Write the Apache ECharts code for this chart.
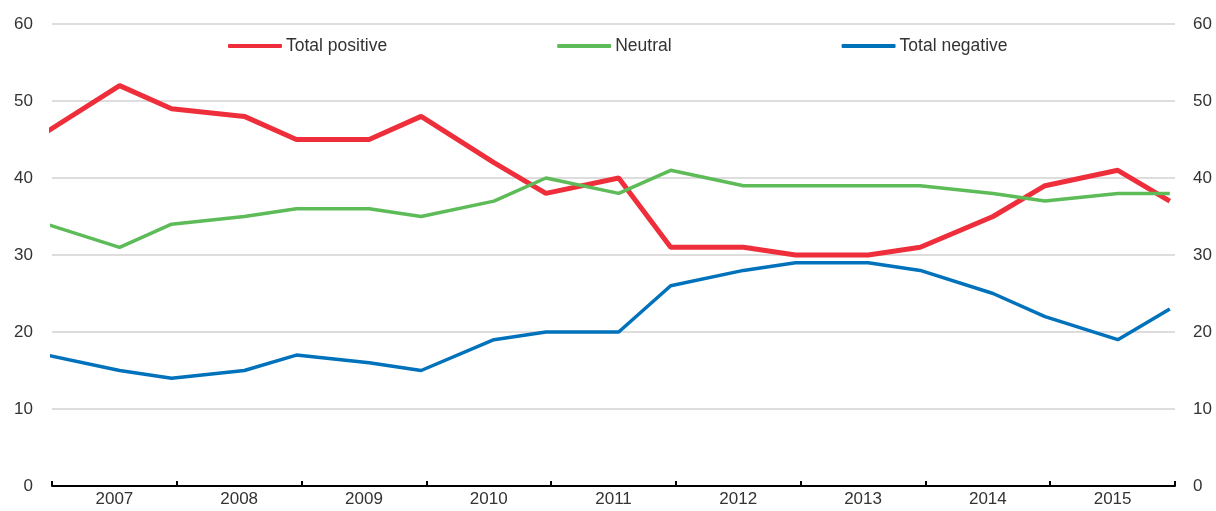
<!DOCTYPE html>
<html>
<head>
<meta charset="utf-8">
<script src="https://cdn.jsdelivr.net/npm/echarts@6/dist/echarts.min.js"></script>
<style>
  html, body { margin: 0; padding: 0; background: #fff; }
  #chart { width: 1216px; height: 511px; }
</style>
</head>
<body>
<div id="chart"></div>
<script>
// survey waves (month of each observation)
const periods = [
  "2006-12", "2007-07", "2007-12", "2008-07", "2008-12", "2009-07", "2009-12",
  "2010-07", "2010-12", "2011-07", "2011-12", "2012-07", "2012-12",
  "2013-07", "2013-12", "2014-07", "2014-12", "2015-07", "2015-12"
];
const totalPositive = [46, 52, 49, 48, 45, 45, 48, 42, 38, 40, 31, 31, 30, 30, 31, 35, 39, 41, 37];
const neutral = [34, 31, 34, 35, 36, 36, 35, 37, 40, 38, 41, 39, 39, 39, 39, 38, 37, 38, 38];
const totalNegative = [17, 15, 14, 15, 17, 16, 15, 19, 20, 20, 26, 28, 29, 29, 28, 25, 22, 19, 23];
const years = ["2007", "2008", "2009", "2010", "2011", "2012", "2013", "2014", "2015"];

const FONT = "Liberation Sans, Arial, sans-serif";
const TEXT = "#333333";

// month -> position inside the year band (middle of the month)
function toYear(p) {
  const [y, m] = p.split("-").map(Number);
  return y + (m - 0.5) / 12;
}
const pairs = (vals) => vals.map((v, i) => [toYear(periods[i]), v]);

const chart = echarts.init(document.getElementById("chart"), null, { renderer: "canvas" });

const option = {
  animation: false,
  backgroundColor: "#ffffff",
  textStyle: { fontFamily: FONT },
  grid: { left: 52, right: 41, top: 24, bottom: 25, containLabel: false },
  legend: {
    top: 32,
    left: 228,
    padding: [5, 0, 5, 0],
    icon: "roundRect",
    itemWidth: 54,
    itemHeight: 4,
    itemGap: 170,
    textStyle: { fontSize: 17.5, color: TEXT, fontFamily: FONT, padding: [0, 0, 0, -1] },
    data: ["Total positive", "Neutral", "Total negative"]
  },
  xAxis: [
    {
      type: "value",
      min: 2007,
      max: 2016,
      interval: 1,
      position: "bottom",
      axisLine: { show: true, lineStyle: { color: "#000", width: 2 } },
      axisTick: { show: true, inside: true, length: 5, lineStyle: { color: "#000", width: 2 } },
      axisLabel: { show: false },
      splitLine: { show: false }
    },
    {
      type: "category",
      data: years,
      boundaryGap: true,
      position: "bottom",
      axisLine: { show: false },
      axisTick: { show: false },
      axisLabel: { fontSize: 17, color: TEXT, margin: 5, fontFamily: FONT },
      splitLine: { show: false }
    }
  ],
  yAxis: [
    {
      type: "value",
      position: "left",
      min: 0,
      max: 60,
      interval: 10,
      axisLine: { show: false },
      axisTick: { show: false },
      axisLabel: { fontSize: 17, color: TEXT, margin: 19, fontFamily: FONT },
      splitLine: { show: true, lineStyle: { color: "#d2d2d2", width: 1.5 } }
    },
    {
      type: "value",
      position: "right",
      min: 0,
      max: 60,
      interval: 10,
      axisLine: { show: false },
      axisTick: { show: false },
      axisLabel: { fontSize: 17, color: TEXT, margin: 18, fontFamily: FONT },
      splitLine: { show: false }
    }
  ],
  series: [
    {
      name: "Total positive",
      type: "line",
      data: pairs(totalPositive),
      symbol: "none",
      clip: true,
      color: "#ee2f3b",
      lineStyle: { color: "#ee2f3b", width: 5 }
    },
    {
      name: "Neutral",
      type: "line",
      data: pairs(neutral),
      symbol: "none",
      clip: true,
      color: "#5dbb58",
      lineStyle: { color: "#5dbb58", width: 3.5 }
    },
    {
      name: "Total negative",
      type: "line",
      data: pairs(totalNegative),
      symbol: "none",
      clip: true,
      color: "#0072bc",
      lineStyle: { color: "#0072bc", width: 3.5 }
    }
  ]
};

chart.setOption(option);
</script>
</body>
</html>
